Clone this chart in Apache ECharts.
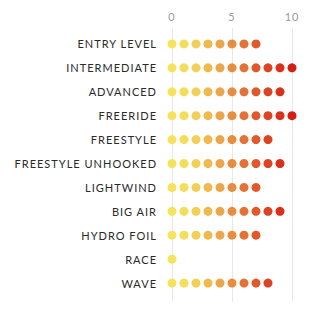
<!DOCTYPE html>
<html>
<head>
<meta charset="utf-8">
<script src="https://cdn.jsdelivr.net/npm/echarts@6/dist/echarts.min.js"></script>
<style>
html,body{margin:0;padding:0;background:#fff;}
#c{width:311px;height:316px;}
#c svg text{letter-spacing:1px;}
</style>
</head>
<body>
<div id="c"></div>
<script>
const categories = ['ENTRY LEVEL','INTERMEDIATE','ADVANCED','FREERIDE','FREESTYLE','FREESTYLE UNHOOKED','LIGHTWIND','BIG AIR','HYDRO FOIL','RACE','WAVE'];
const maxLevel = [7, 10, 9, 10, 8, 9, 7, 9, 7, 0, 8];
const xTicks = [0, 5, 10];
const dotColors = ['#f5e35b','#f4dd58','#f2cf55','#efba4d','#eca549','#e98c3e','#e57234','#e1592b','#dd4222','#d9301a','#d51e12'];

const points = [];
categories.forEach((c, i) => {
  for (let v = 0; v <= maxLevel[i]; v++) points.push([v, c]);
});

const chart = echarts.init(document.getElementById('c'), null, {renderer: 'svg'});
chart.setOption({
  animation: false,
  grid: [
    {left: 172, right: 19, top: 28, height: 274},
    {left: 172, right: 19, top: 32, height: 263}
  ],
  xAxis: [
    {gridIndex: 0, type: 'value', position: 'top', min: 0, max: 10, interval: 5,
     axisLine: {show: false}, axisTick: {show: false},
     splitLine: {show: true, lineStyle: {color: '#e8e8e8', width: 1}},
     axisLabel: {color: '#999', fontSize: 11, fontFamily: 'Lato', margin: 6,
       formatter: v => xTicks.includes(v) ? String(v) : ''}},
    {gridIndex: 1, type: 'value', min: 0, max: 10, show: false}
  ],
  yAxis: [
    {gridIndex: 0, type: 'value', show: false},
    {gridIndex: 1, type: 'category', data: categories, inverse: true,
     axisLine: {show: false}, axisTick: {show: false}, splitLine: {show: false},
     axisLabel: {color: '#2a2a2a', fontSize: 11, fontFamily: 'Lato', margin: 15}}
  ],
  series: [{
    type: 'scatter', xAxisIndex: 1, yAxisIndex: 1,
    symbolSize: 9, data: points,
    itemStyle: {opacity: 1, color: p => dotColors[p.value[0]]}
  }]
});
</script>
</body>
</html>
